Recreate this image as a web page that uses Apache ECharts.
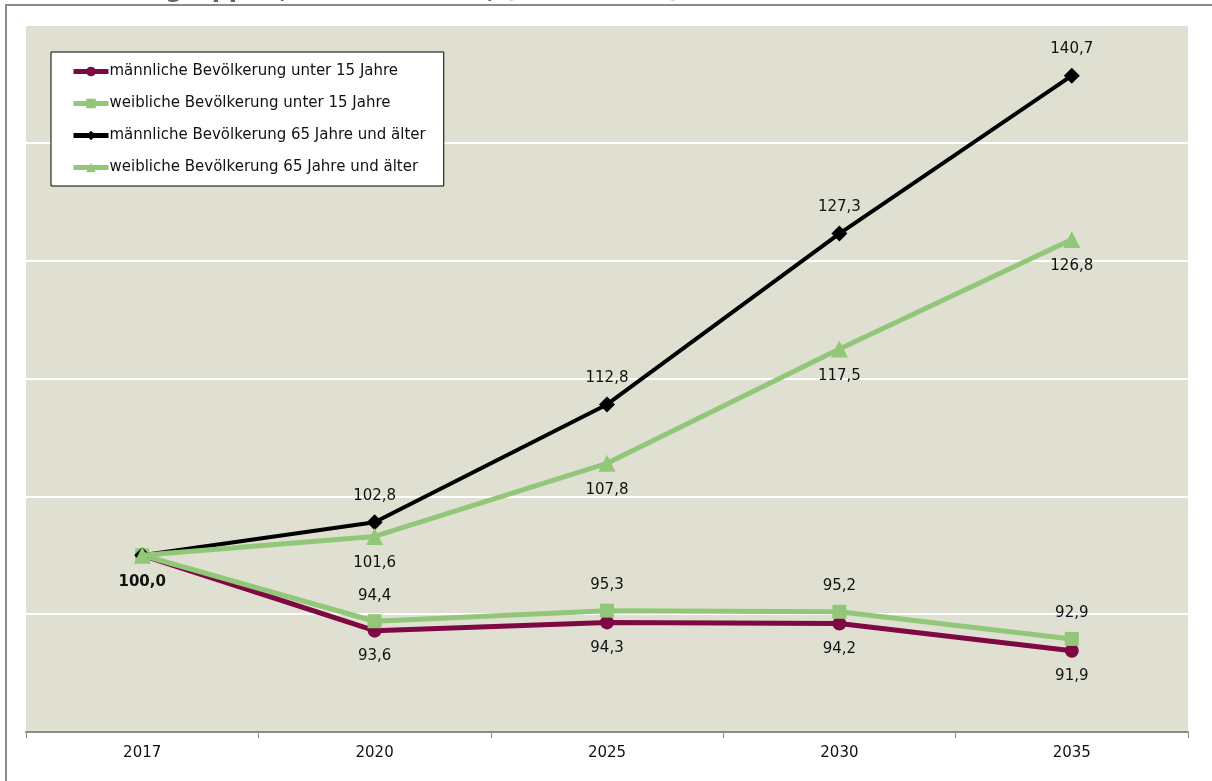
<!DOCTYPE html>
<html>
<head>
<meta charset="utf-8">
<script src="https://cdn.jsdelivr.net/npm/echarts@6/dist/echarts.min.js"></script>
<style>
html,body{margin:0;padding:0;background:#fff;}
#c{width:1212px;height:781px;}
</style>
</head>
<body>
<div id="c"></div>
<script>
const categories = ['2017', '2020', '2025', '2030', '2035'];
const seriesNames = [
  'männliche Bevölkerung unter 15 Jahre',
  'weibliche Bevölkerung unter 15 Jahre',
  'männliche Bevölkerung 65 Jahre und älter',
  'weibliche Bevölkerung 65 Jahre und älter'
];
const maleUnder15 = [100.0, 93.6, 94.3, 94.2, 91.9];
const femaleUnder15 = [100.0, 94.4, 95.3, 95.2, 92.9];
const male65plus = [100.0, 102.8, 112.8, 127.3, 140.7];
const female65plus = [100.0, 101.6, 107.8, 117.5, 126.8];
const titleText = 'Entwicklung der Bevölkerung nach Altersgruppen, 2017 bis 2035, (2017 = 100)';

const FONT = 'DejaVu Sans';
const fmt = v => v.toFixed(1).replace('.', ',');
const MAROON = '#7E0843';
const GREEN = '#92C77A';

// mode: 'all' | 'skipFirst' | 'boldFirst'
function labelCfg(pos, mode) {
  return {
    show: true,
    position: pos,
    distance: 11,
    fontFamily: FONT,
    fontSize: 15,
    color: '#111',
    rich: {b: {fontFamily: FONT, fontSize: 15, fontWeight: 'bold', color: '#111'}},
    formatter: p => {
      if (p.dataIndex === 0) {
        if (mode === 'skipFirst') return '';
        if (mode === 'boldFirst') return '{b|' + fmt(p.value) + '}';
      }
      return fmt(p.value);
    }
  };
}

const chart = echarts.init(document.getElementById('c'), null, {renderer: 'canvas'});
chart.setOption({
  animation: false,
  backgroundColor: '#fff',
  graphic: [
    {
      type: 'rect', z: -10, silent: true,
      shape: {x: 6, y: 5, width: 1240, height: 820},
      style: {fill: '#fff', stroke: '#8a8a8a', lineWidth: 2}
    },
    {
      type: 'rect', z: -5, silent: true,
      shape: {x: 26, y: 25, width: 1162, height: 707},
      style: {fill: '#DFE0D2'}
    },
    {
      type: 'text', z: 5, silent: true,
      style: {
        text: titleText, x: 680, y: 3, align: 'right', verticalAlign: 'bottom',
        fontFamily: FONT, fontSize: 24, fontWeight: 'bold', fill: '#5C6A57'
      }
    }
  ],
  grid: {left: 26, right: 24, top: 25, bottom: 49, containLabel: false},
  legend: {
    orient: 'vertical',
    left: 51, top: 52,
    backgroundColor: '#fff',
    borderColor: '#000',
    borderWidth: 1,
    borderRadius: 0,
    padding: [12, 18, 11, 20],
    itemWidth: 35,
    itemHeight: 12,
    itemGap: 17,
    lineStyle: {width: 5},
    textStyle: {fontFamily: FONT, fontSize: 15, color: '#111', padding: [0, 0, 0, -4]},
    data: seriesNames
  },
  xAxis: {
    type: 'category',
    data: categories,
    boundaryGap: true,
    axisLine: {show: true, lineStyle: {color: '#8a8a8a', width: 2}},
    axisTick: {show: true, length: 6, lineStyle: {color: '#8a8a8a', width: 1}},
    axisLabel: {fontFamily: FONT, fontSize: 15, color: '#111', margin: 14},
    splitLine: {show: false}
  },
  yAxis: {
    type: 'value',
    min: 85, max: 145, interval: 10,
    axisLine: {show: false},
    axisTick: {show: false},
    axisLabel: {show: false},
    splitLine: {show: true, lineStyle: {color: '#ffffff', width: 2}}
  },
  series: [
    {
      name: seriesNames[0], type: 'line', data: maleUnder15,
      symbol: 'circle', symbolSize: 14,
      lineStyle: {color: MAROON, width: 5},
      itemStyle: {color: MAROON},
      label: labelCfg('bottom', 'skipFirst'),
      z: 2
    },
    {
      name: seriesNames[1], type: 'line', data: femaleUnder15,
      symbol: 'rect', symbolSize: 14,
      lineStyle: {color: GREEN, width: 5},
      itemStyle: {color: GREEN},
      label: labelCfg('top', 'skipFirst'),
      z: 3
    },
    {
      name: seriesNames[2], type: 'line', data: male65plus,
      symbol: 'diamond', symbolSize: 16,
      lineStyle: {color: '#000', width: 4},
      itemStyle: {color: '#000'},
      label: labelCfg('top', 'skipFirst'),
      z: 4
    },
    {
      name: seriesNames[3], type: 'line', data: female65plus,
      symbol: 'triangle', symbolSize: 17,
      lineStyle: {color: GREEN, width: 5},
      itemStyle: {color: GREEN},
      label: labelCfg('bottom', 'boldFirst'),
      z: 5
    }
  ]
});
</script>
</body>
</html>
